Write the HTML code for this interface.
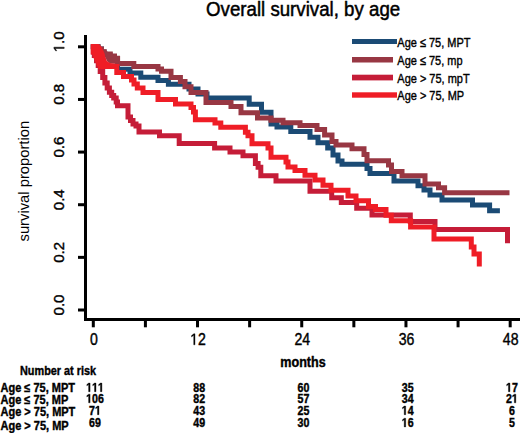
<!DOCTYPE html><html><head><meta charset="utf-8"><style>html,body{margin:0;padding:0;background:#fff;}svg{display:block;}text{font-family:"Liberation Sans",sans-serif;}</style></head><body>
<svg width="520" height="433" viewBox="0 0 520 433">
<rect width="520" height="433" fill="#fff"/>
<text transform="translate(206.00,15.50) scale(0.908,1)" font-size="20.6" fill="#000" stroke="#000" stroke-width="0.5">Overall survival, by age</text>
<path d="M93.3,46.8 L98.0,46.8 L98.0,49.0 L101.5,49.0 L101.5,52.0 L104.0,52.0 L104.0,55.0 L110.0,55.0 L110.0,57.5 L114.5,57.5 L114.5,60.0 L117.5,60.0 L117.5,69.3 L130.0,69.3 L130.0,73.0 L140.8,73.0 L140.8,77.3 L158.0,77.3 L158.0,80.5 L168.4,80.5 L168.4,84.2 L189.0,84.2 L189.0,89.1 L198.0,89.1 L198.0,94.0 L207.0,94.0 L207.0,98.0 L249.2,98.0 L249.2,104.2 L261.5,104.2 L261.5,112.3 L271.0,112.3 L271.0,124.0 L277.0,124.0 L277.0,127.0 L290.8,127.0 L290.8,131.5 L310.0,131.5 L310.0,137.3 L318.0,137.3 L318.0,142.7 L327.7,142.7 L327.7,148.0 L333.0,148.0 L333.0,155.0 L338.0,155.0 L338.0,161.0 L342.0,161.0 L342.0,164.2 L367.0,164.2 L367.0,168.5 L370.0,168.5 L370.0,173.5 L394.0,173.5 L394.0,181.0 L418.0,181.0 L418.0,185.8 L424.0,185.8 L424.0,190.0 L430.0,190.0 L430.0,195.0 L442.0,195.0 L442.0,200.0 L472.5,200.0 L472.5,205.0 L489.6,205.0 L489.6,210.7 L497.4,210.7" fill="none" stroke="#1b4b75" stroke-width="5" stroke-linecap="square" stroke-linejoin="miter"/>
<path d="M93.3,46.8 L98.0,46.8 L98.0,49.0 L101.5,49.0 L101.5,51.7 L104.2,51.7 L104.2,54.0 L110.3,54.0 L110.3,56.0 L114.5,56.0 L114.5,58.3 L117.6,58.3 L117.6,63.5 L133.8,63.5 L133.8,66.5 L158.0,66.5 L158.0,69.0 L161.5,69.0 L161.5,71.2 L171.0,71.2 L171.0,77.5 L180.4,77.5 L180.4,81.5 L185.0,81.5 L185.0,86.7 L191.0,86.7 L191.0,92.5 L206.0,92.5 L206.0,102.5 L231.0,102.5 L231.0,106.5 L241.0,106.5 L241.0,112.8 L257.5,112.8 L257.5,118.0 L271.0,118.0 L271.0,120.3 L283.0,120.3 L283.0,122.7 L300.0,122.7 L300.0,125.4 L317.0,125.4 L317.0,129.6 L324.6,129.6 L324.6,135.0 L332.0,135.0 L332.0,141.5 L336.0,141.5 L336.0,145.0 L352.0,145.0 L352.0,148.8 L364.0,148.8 L364.0,154.6 L367.0,154.6 L367.0,160.8 L388.5,160.8 L388.5,165.0 L391.5,165.0 L391.5,171.5 L402.0,171.5 L402.0,175.7 L425.0,175.7 L425.0,183.9 L438.5,183.9 L438.5,187.7 L444.6,187.7 L444.6,192.7 L507.0,192.7" fill="none" stroke="#983743" stroke-width="5" stroke-linecap="square" stroke-linejoin="miter"/>
<path d="M93.3,46.8 L93.3,52.0 L94.3,52.0 L94.3,55.4 L96.5,55.4 L96.5,60.8 L98.2,60.8 L98.2,65.4 L100.2,65.4 L100.2,71.5 L102.7,71.5 L102.7,77.5 L104.9,77.5 L104.9,83.1 L107.2,83.1 L107.2,88.0 L109.4,88.0 L109.4,92.3 L111.7,92.3 L111.7,95.5 L113.7,95.5 L113.7,98.1 L116.2,98.1 L116.2,102.0 L117.5,102.0 L117.5,105.8 L128.0,105.8 L128.0,117.0 L130.5,117.0 L130.5,120.5 L133.0,120.5 L133.0,124.0 L136.0,124.0 L136.0,126.0 L139.0,126.0 L139.0,128.0 L139.0,131.9 L159.5,131.9 L159.5,135.8 L179.2,135.8 L179.2,143.5 L214.6,143.5 L214.6,148.1 L230.0,148.1 L230.0,151.9 L243.0,151.9 L243.0,155.8 L251.0,155.8 L255.4,155.8 L255.4,163.5 L258.1,163.5 L258.1,167.2 L260.8,167.2 L260.8,170.8 L260.8,175.7 L276.0,175.7 L276.0,181.1 L310.0,181.1 L310.0,191.3 L331.7,191.3 L331.7,197.7 L341.3,197.7 L341.3,202.5 L356.7,202.5 L356.7,208.3 L372.0,208.3 L372.0,215.0 L410.3,215.0 L410.3,221.4 L435.0,221.4 L435.0,229.5 L507.5,229.5 L507.5,240.8" fill="none" stroke="#c51d38" stroke-width="5" stroke-linecap="square" stroke-linejoin="miter"/>
<path d="M93.3,46.8 L93.3,52.0 L96.0,52.0 L96.0,56.0 L98.5,56.0 L98.5,61.0 L100.5,61.0 L100.5,64.5 L100.5,66.5 L116.8,66.5 L116.8,72.5 L123.5,72.5 L123.5,76.4 L131.5,76.4 L131.5,80.0 L134.0,80.0 L134.0,84.0 L137.3,84.0 L137.3,88.0 L143.0,88.0 L143.0,92.4 L158.0,92.4 L158.0,99.4 L175.5,99.4 L175.5,104.0 L188.5,104.0 L191.0,104.0 L191.0,107.5 L193.5,107.5 L193.5,112.0 L195.4,112.0 L195.4,116.0 L195.4,119.7 L215.0,119.7 L215.0,123.1 L220.8,123.1 L220.8,127.3 L242.3,127.3 L245.4,127.3 L245.4,132.3 L248.0,132.3 L248.0,135.8 L252.0,135.8 L252.0,141.0 L252.0,143.8 L260.0,143.8 L264.6,143.8 L268.0,143.8 L268.0,148.0 L271.0,148.0 L271.0,152.0 L271.0,157.3 L286.0,157.3 L286.0,162.0 L288.0,162.0 L288.0,167.0 L295.0,167.0 L295.0,170.4 L305.0,170.4 L305.0,175.2 L315.0,175.2 L315.0,180.0 L323.0,180.0 L323.0,185.3 L331.0,185.3 L331.0,190.2 L348.0,190.2 L348.0,196.0 L356.0,196.0 L356.0,200.8 L368.5,200.8 L368.5,206.5 L375.5,206.5 L375.5,209.5 L386.0,209.5 L386.0,215.2 L391.3,215.2 L391.3,220.8 L410.6,220.8 L410.6,227.0 L434.0,227.0 L434.0,239.1 L471.3,239.1 L471.3,247.0 L474.0,247.0 L474.0,254.0 L479.3,254.0 L479.3,264.0" fill="none" stroke="#ef1d26" stroke-width="5" stroke-linecap="square" stroke-linejoin="miter"/>
<polygon points="100,46 104.5,50 110,53 114,55 118.5,58 118.5,64 110,63.5 106.8,61 105.5,57 104.5,53.3 103,50" fill="#983743"/><polygon points="91,44 98.5,44 101,46 103,50 104.5,53.3 105.5,57 106.8,61 110,63 117,64 119,64 119,69 101,69 97,66 93.5,57 91,50" fill="#ef1d26"/>
<rect x="84" y="35" width="3" height="286" fill="#000"/>
<rect x="84" y="318" width="436" height="3" fill="#000"/>
<rect x="78" y="308.50" width="6" height="3" fill="#000"/>
<text transform="translate(64.20,305.00) rotate(-90)" font-size="15" text-anchor="middle" fill="#000" stroke="#000" stroke-width="0.4">0.0</text>
<rect x="78" y="255.86" width="6" height="3" fill="#000"/>
<text transform="translate(64.20,252.36) rotate(-90)" font-size="15" text-anchor="middle" fill="#000" stroke="#000" stroke-width="0.4">0.2</text>
<rect x="78" y="203.22" width="6" height="3" fill="#000"/>
<text transform="translate(64.20,199.72) rotate(-90)" font-size="15" text-anchor="middle" fill="#000" stroke="#000" stroke-width="0.4">0.4</text>
<rect x="78" y="150.58" width="6" height="3" fill="#000"/>
<text transform="translate(64.20,147.08) rotate(-90)" font-size="15" text-anchor="middle" fill="#000" stroke="#000" stroke-width="0.4">0.6</text>
<rect x="78" y="97.94" width="6" height="3" fill="#000"/>
<text transform="translate(64.20,94.44) rotate(-90)" font-size="15" text-anchor="middle" fill="#000" stroke="#000" stroke-width="0.4">0.8</text>
<rect x="78" y="45.30" width="6" height="3" fill="#000"/>
<g transform="translate(64.20,41.80) rotate(-90)">
<text font-size="15" text-anchor="middle" fill="#000" stroke="#000" stroke-width="0.4">&#x2007;.0</text>
<path d="M515,0 L515,1237 L197,1010 L197,1180 L530,1409 L696,1409 L696,0 Z" transform="translate(-10.426,0) scale(0.007324,-0.007324)" fill="#000" stroke="#000" stroke-width="54.6"/>
</g>
<rect x="143.91" y="321" width="3" height="6.3" fill="#000"/>
<rect x="248.13" y="321" width="3" height="6.3" fill="#000"/>
<rect x="352.35" y="321" width="3" height="6.3" fill="#000"/>
<rect x="456.57" y="321" width="3" height="6.3" fill="#000"/>
<rect x="91.80" y="321" width="3" height="6.3" fill="#000"/>
<text transform="translate(93.80,344.80) scale(0.88,1)" font-size="16" text-anchor="middle" fill="#000" stroke="#000" stroke-width="0.4">0</text>
<rect x="196.02" y="321" width="3" height="6.3" fill="#000"/>
<g transform="translate(198.02,344.80) scale(0.88,1)">
<text font-size="16" text-anchor="middle" fill="#000" stroke="#000" stroke-width="0.4">&#x2007;2</text>
<path d="M515,0 L515,1237 L197,1010 L197,1180 L530,1409 L696,1409 L696,0 Z" transform="translate(-8.898,0) scale(0.007812,-0.007812)" fill="#000" stroke="#000" stroke-width="51.2"/>
</g>
<rect x="300.24" y="321" width="3" height="6.3" fill="#000"/>
<text transform="translate(302.24,344.80) scale(0.88,1)" font-size="16" text-anchor="middle" fill="#000" stroke="#000" stroke-width="0.4">24</text>
<rect x="404.46" y="321" width="3" height="6.3" fill="#000"/>
<text transform="translate(406.46,344.80) scale(0.88,1)" font-size="16" text-anchor="middle" fill="#000" stroke="#000" stroke-width="0.4">36</text>
<rect x="508.68" y="321" width="3" height="6.3" fill="#000"/>
<text transform="translate(510.68,344.80) scale(0.88,1)" font-size="16" text-anchor="middle" fill="#000" stroke="#000" stroke-width="0.4">48</text>
<text transform="translate(303.00,366.80) scale(0.9,1)" font-size="14" font-weight="bold" text-anchor="middle" fill="#000" stroke="#000" stroke-width="0.4">months</text>
<text transform="translate(29.00,241.50) rotate(-90) scale(1.02,1)" font-size="14.5" fill="#000">survival proportion</text>
<rect x="352" y="39" width="45" height="5.00" fill="#1b4b75"/>
<text transform="translate(397.30,46.90) scale(0.82,1)" font-size="13.4" fill="#000" stroke="#000" stroke-width="0.4">Age ≤ 75, MPT</text>
<rect x="352" y="57" width="41" height="5.50" fill="#983743"/>
<text transform="translate(397.30,65.25) scale(0.82,1)" font-size="13.4" fill="#000" stroke="#000" stroke-width="0.4">Age ≤ 75, mp</text>
<rect x="352" y="74.7" width="41" height="5.70" fill="#c51d38"/>
<text transform="translate(397.30,83.30) scale(0.82,1)" font-size="13.4" fill="#000" stroke="#000" stroke-width="0.4">Age &gt; 75, mpT</text>
<rect x="352" y="92.3" width="45" height="5.40" fill="#ef1d26"/>
<text transform="translate(397.30,100.30) scale(0.82,1)" font-size="13.4" fill="#000" stroke="#000" stroke-width="0.4">Age &gt; 75, MP</text>
<text transform="translate(20.00,374.60) scale(0.837,1)" font-size="13" font-weight="bold" fill="#000" stroke="#000" stroke-width="0.4">Number at risk</text>
<text transform="translate(0.50,392.30) scale(0.88,1)" font-size="12.5" font-weight="bold" fill="#000" stroke="#000" stroke-width="0.4">Age ≤ 75, MPT</text>
<text transform="translate(0.50,403.80) scale(0.88,1)" font-size="12.5" font-weight="bold" fill="#000" stroke="#000" stroke-width="0.4">Age ≤ 75, MP</text>
<text transform="translate(0.50,416.00) scale(0.88,1)" font-size="12.5" font-weight="bold" fill="#000" stroke="#000" stroke-width="0.4">Age &gt; 75, MPT</text>
<text transform="translate(0.50,430.20) scale(0.88,1)" font-size="12.5" font-weight="bold" fill="#000" stroke="#000" stroke-width="0.4">Age &gt; 75, MP</text>
<g transform="translate(95.00,391.70) scale(0.85,1)">
<text font-size="12.5" font-weight="bold" text-anchor="middle" fill="#000" stroke="#000" stroke-width="0.4">&#x2007;&#x2007;&#x2007;</text>
<path d="M478,0 L478,1170 L140,959 L140,1180 L493,1409 L759,1409 L759,0 Z" transform="translate(-10.428,0) scale(0.006104,-0.006104)" fill="#000" stroke="#000" stroke-width="65.5"/>
<path d="M478,0 L478,1170 L140,959 L140,1180 L493,1409 L759,1409 L759,0 Z" transform="translate(-3.476,0) scale(0.006104,-0.006104)" fill="#000" stroke="#000" stroke-width="65.5"/>
<path d="M478,0 L478,1170 L140,959 L140,1180 L493,1409 L759,1409 L759,0 Z" transform="translate(3.476,0) scale(0.006104,-0.006104)" fill="#000" stroke="#000" stroke-width="65.5"/>
</g>
<text transform="translate(199.22,391.70) scale(0.85,1)" font-size="12.5" font-weight="bold" text-anchor="middle" fill="#000" stroke="#000" stroke-width="0.4">88</text>
<text transform="translate(303.44,391.70) scale(0.85,1)" font-size="12.5" font-weight="bold" text-anchor="middle" fill="#000" stroke="#000" stroke-width="0.4">60</text>
<text transform="translate(407.66,391.70) scale(0.85,1)" font-size="12.5" font-weight="bold" text-anchor="middle" fill="#000" stroke="#000" stroke-width="0.4">35</text>
<g transform="translate(511.88,391.70) scale(0.85,1)">
<text font-size="12.5" font-weight="bold" text-anchor="middle" fill="#000" stroke="#000" stroke-width="0.4">&#x2007;7</text>
<path d="M478,0 L478,1170 L140,959 L140,1180 L493,1409 L759,1409 L759,0 Z" transform="translate(-6.952,0) scale(0.006104,-0.006104)" fill="#000" stroke="#000" stroke-width="65.5"/>
</g>
<g transform="translate(95.00,402.80) scale(0.85,1)">
<text font-size="12.5" font-weight="bold" text-anchor="middle" fill="#000" stroke="#000" stroke-width="0.4">&#x2007;06</text>
<path d="M478,0 L478,1170 L140,959 L140,1180 L493,1409 L759,1409 L759,0 Z" transform="translate(-10.428,0) scale(0.006104,-0.006104)" fill="#000" stroke="#000" stroke-width="65.5"/>
</g>
<text transform="translate(199.22,402.80) scale(0.85,1)" font-size="12.5" font-weight="bold" text-anchor="middle" fill="#000" stroke="#000" stroke-width="0.4">82</text>
<text transform="translate(303.44,402.80) scale(0.85,1)" font-size="12.5" font-weight="bold" text-anchor="middle" fill="#000" stroke="#000" stroke-width="0.4">57</text>
<text transform="translate(407.66,402.80) scale(0.85,1)" font-size="12.5" font-weight="bold" text-anchor="middle" fill="#000" stroke="#000" stroke-width="0.4">34</text>
<g transform="translate(511.88,402.80) scale(0.85,1)">
<text font-size="12.5" font-weight="bold" text-anchor="middle" fill="#000" stroke="#000" stroke-width="0.4">2&#x2007;</text>
<path d="M478,0 L478,1170 L140,959 L140,1180 L493,1409 L759,1409 L759,0 Z" transform="translate(0.000,0) scale(0.006104,-0.006104)" fill="#000" stroke="#000" stroke-width="65.5"/>
</g>
<g transform="translate(95.00,414.70) scale(0.85,1)">
<text font-size="12.5" font-weight="bold" text-anchor="middle" fill="#000" stroke="#000" stroke-width="0.4">7&#x2007;</text>
<path d="M478,0 L478,1170 L140,959 L140,1180 L493,1409 L759,1409 L759,0 Z" transform="translate(0.000,0) scale(0.006104,-0.006104)" fill="#000" stroke="#000" stroke-width="65.5"/>
</g>
<text transform="translate(199.22,414.70) scale(0.85,1)" font-size="12.5" font-weight="bold" text-anchor="middle" fill="#000" stroke="#000" stroke-width="0.4">43</text>
<text transform="translate(303.44,414.70) scale(0.85,1)" font-size="12.5" font-weight="bold" text-anchor="middle" fill="#000" stroke="#000" stroke-width="0.4">25</text>
<g transform="translate(407.66,414.70) scale(0.85,1)">
<text font-size="12.5" font-weight="bold" text-anchor="middle" fill="#000" stroke="#000" stroke-width="0.4">&#x2007;4</text>
<path d="M478,0 L478,1170 L140,959 L140,1180 L493,1409 L759,1409 L759,0 Z" transform="translate(-6.952,0) scale(0.006104,-0.006104)" fill="#000" stroke="#000" stroke-width="65.5"/>
</g>
<text transform="translate(511.88,414.70) scale(0.85,1)" font-size="12.5" font-weight="bold" text-anchor="middle" fill="#000" stroke="#000" stroke-width="0.4">6</text>
<text transform="translate(95.00,426.90) scale(0.85,1)" font-size="12.5" font-weight="bold" text-anchor="middle" fill="#000" stroke="#000" stroke-width="0.4">69</text>
<text transform="translate(199.22,426.90) scale(0.85,1)" font-size="12.5" font-weight="bold" text-anchor="middle" fill="#000" stroke="#000" stroke-width="0.4">49</text>
<text transform="translate(303.44,426.90) scale(0.85,1)" font-size="12.5" font-weight="bold" text-anchor="middle" fill="#000" stroke="#000" stroke-width="0.4">30</text>
<g transform="translate(407.66,426.90) scale(0.85,1)">
<text font-size="12.5" font-weight="bold" text-anchor="middle" fill="#000" stroke="#000" stroke-width="0.4">&#x2007;6</text>
<path d="M478,0 L478,1170 L140,959 L140,1180 L493,1409 L759,1409 L759,0 Z" transform="translate(-6.952,0) scale(0.006104,-0.006104)" fill="#000" stroke="#000" stroke-width="65.5"/>
</g>
<text transform="translate(511.88,426.90) scale(0.85,1)" font-size="12.5" font-weight="bold" text-anchor="middle" fill="#000" stroke="#000" stroke-width="0.4">5</text>
</svg></body></html>
